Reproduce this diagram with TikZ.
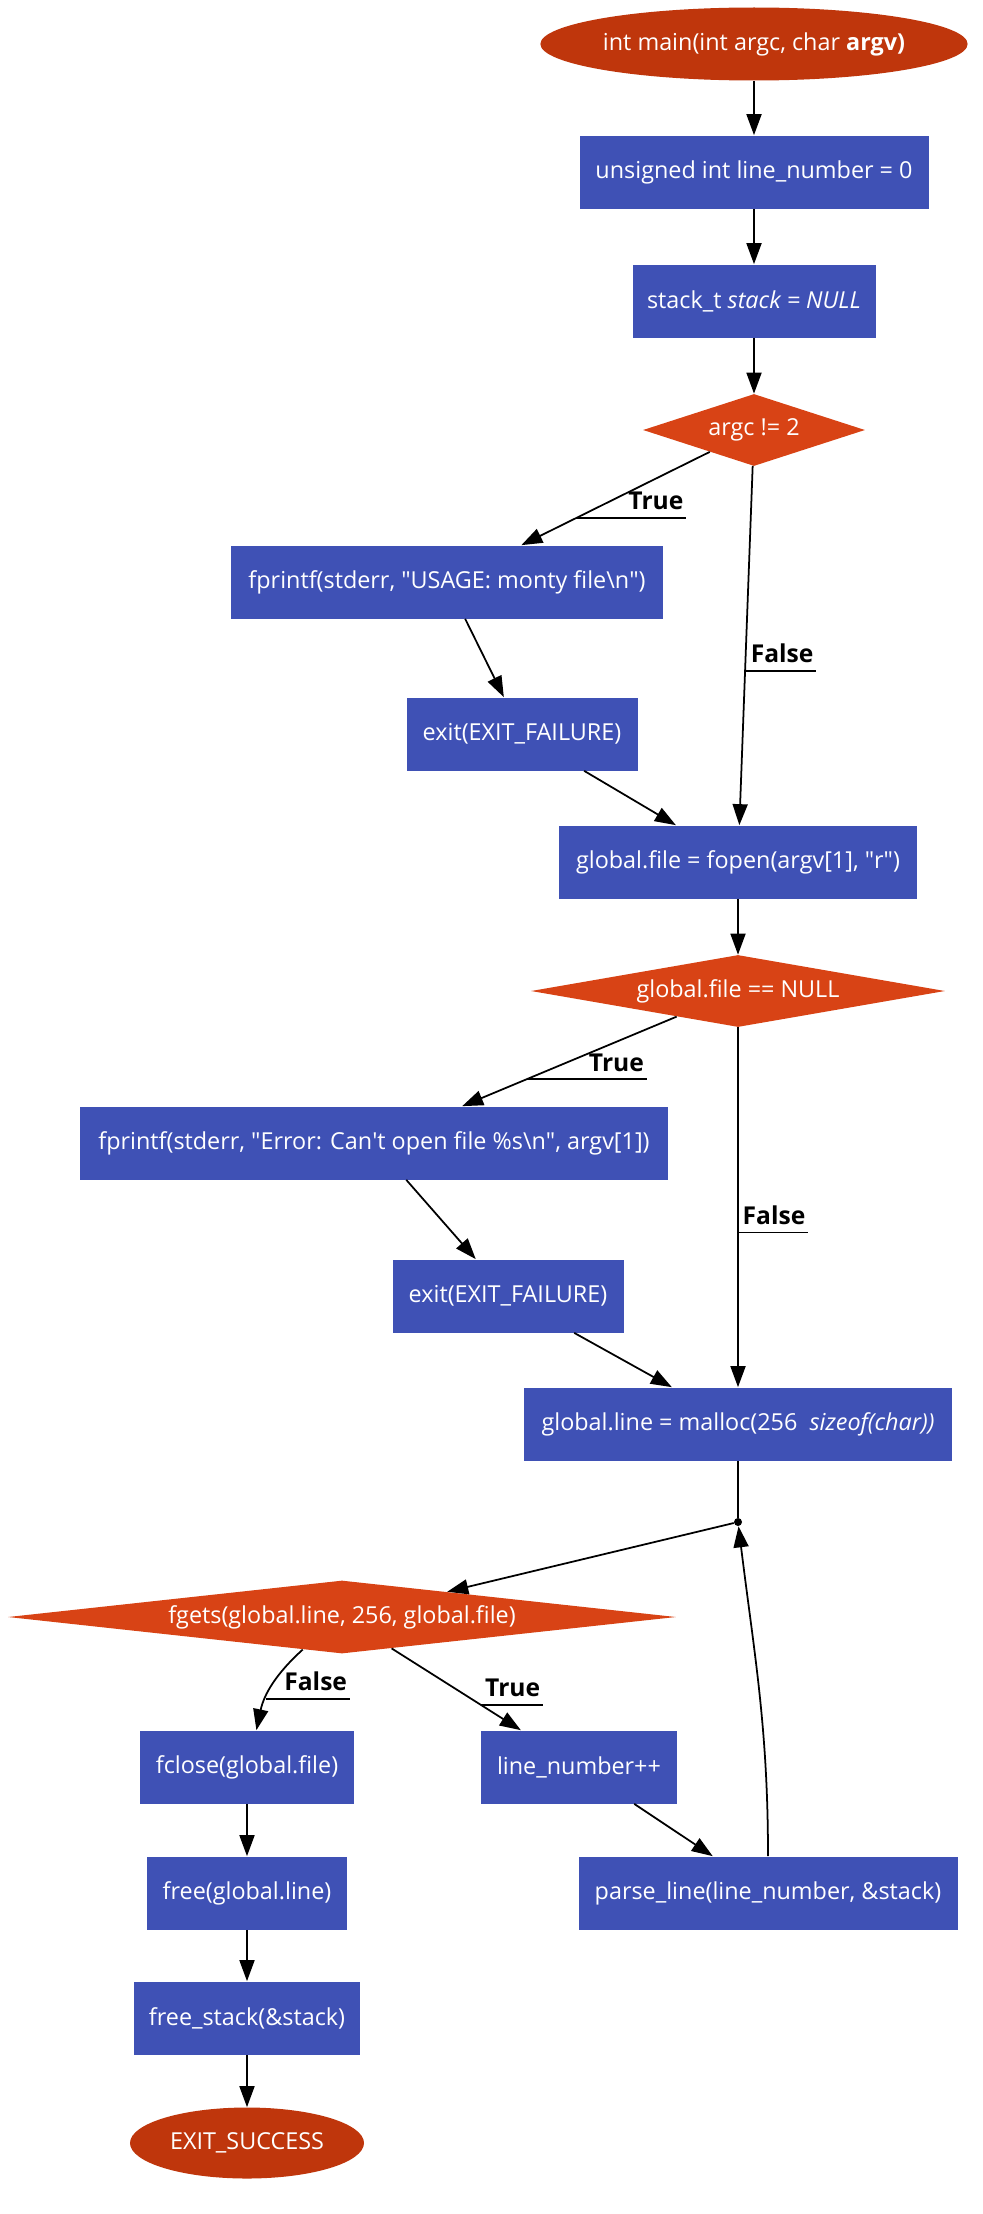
\documentclass[tikz,border=0pt]{standalone}
\usepackage{fontspec}
\setmainfont{Open Sans}
\usepackage{tikz}
\usetikzlibrary{shapes, arrows.meta, calc}
\definecolor{termred}{HTML}{BF360C}
\definecolor{procblue}{HTML}{3F51B5}
\definecolor{decorange}{HTML}{D84315}
\newcommand{\dq}{\textquotedbl}
\tikzstyle{terminal} = [ellipse, fill=termred, text=white, inner sep=0pt,
    minimum height=1.46cm]
\tikzstyle{process} = [rectangle, fill=procblue, text=white, inner sep=0pt,
    minimum height=1.46cm]
\tikzstyle{decision} = [diamond, fill=decorange, text=white, inner sep=0pt,
    minimum height=1.44cm]
\tikzstyle{line} = [draw, line width=1pt, -{Triangle[length=0.42cm, width=0.3cm]}]
\tikzstyle{branch} = [font=\fontsize{14}{16}\selectfont\bfseries, inner xsep=1pt,
    inner ysep=4pt, anchor=south east]
\tikzstyle{dot} = [circle, fill=black, inner sep=0pt, minimum size=0.16cm]

\begin{document}
\begin{tikzpicture}[node distance = 2.58cm, font=\fontsize{13.3}{15}\selectfont]
    \useasboundingbox (0,0) rectangle (19.66,-44.28);
    % Nodes
    \node[terminal, minimum width=8.34cm] (main) at (15.08,-0.88)
        {int main(int argc, char \textbf{argv)}};
    \node[process, below of=main, node distance=2.56cm, minimum width=6.98cm] (init)
        {unsigned int line\_number = 0};
    \node[process, below of=init, minimum width=4.86cm] (stackinit)
        {stack\_t \textit{stack = NULL}};
    \node[decision, below of=stackinit, minimum width=4.44cm, shape aspect=3] (argc)
        {argc != 2};
    \node[process, below of=argc, node distance=3.04cm, xshift=-6.14cm,
          minimum width=8.64cm] (usage)
        {fprintf(stderr, \dq USAGE: monty file\textbackslash n\dq)};
    \node[process, below of=usage, node distance=3.04cm, xshift=1.5cm,
          minimum width=4.62cm] (exita) {exit(EXIT\_FAILURE)};
    \node[process, below of=argc, node distance=8.64cm, xshift=-0.32cm,
          minimum width=7.16cm] (fopen) {global.file = fopen(argv[1], \dq r\dq)};
    \node[decision, below of=fopen, minimum width=8.28cm, shape aspect=5.7] (isnull)
        {global.file == NULL};
    \node[process, below of=isnull, node distance=3.04cm, xshift=-7.28cm,
          minimum width=11.76cm] (errmsg)
        {fprintf(stderr, \dq Error: Can\textquotesingle t open file \%s\textbackslash n\dq, argv[1])};
    \node[process, below of=errmsg, node distance=3.06cm, xshift=2.68cm,
          minimum width=4.62cm] (exitb) {exit(EXIT\_FAILURE)};
    \node[process, below of=isnull, node distance=8.66cm, minimum width=8.56cm] (malloc)
        {global.line = malloc(256 \ \textit{sizeof(char))}};
    \node[dot, below of=malloc, node distance=1.96cm] (jn) {};
    \node[decision, below of=malloc, node distance=3.86cm, xshift=-7.92cm,
          minimum width=13.36cm, minimum height=1.46cm, shape aspect=9] (fgets)
        {fgets(global.line, 256, global.file)};
    \node[process, below of=fgets, node distance=3cm, xshift=-1.9cm,
          minimum width=4.28cm] (fclose) {fclose(global.file)};
    \node[process, below of=fgets, node distance=3cm, xshift=4.74cm,
          minimum width=3.92cm] (incr) {line\_number++};
    \node[process, below of=fclose, node distance=2.52cm, minimum width=4cm] (freeline)
        {free(global.line)};
    \node[process, below of=incr, node distance=2.52cm, xshift=3.78cm,
          minimum width=7.58cm] (parse) {parse\_line(line\_number, \&stack)};
    \node[process, below of=freeline, node distance=2.5cm, minimum width=4.52cm] (freestack)
        {free\_stack(\&stack)};
    \node[terminal, below of=freestack, node distance=2.5cm, minimum width=4.68cm,
          minimum height=1.42cm] (success) {EXIT\_SUCCESS};

    % Edges
    \path[line] (main) -- (init);
    \path[line] (init) -- (stackinit);
    \path[line] (stackinit) -- (argc);
    \path[line] (argc) -- coordinate[pos=0.71] (ta) (usage);
    \draw[line width=1pt] (ta) -- ++(2.2,0) node[branch] (lta) {True};
    \path[line] (argc) -- coordinate[pos=0.57] (fa) (fopen);
    \draw[line width=1pt] (fa) -- ++(1.42,0) node[branch] (lfa) {False};
    \path[line] (usage) -- (exita);
    \path[line] (exita) -- (fopen);
    \path[line] (fopen) -- (isnull);
    \path[line] (isnull) -- coordinate[pos=0.7] (tb) (errmsg);
    \draw[line width=1pt] (tb) -- ++(2.4,0) node[branch] (ltb) {True};
    \path[line] (isnull) -- coordinate[pos=0.57] (fb) (malloc);
    \draw[line width=1pt] (fb) -- ++(1.4,0) node[branch] (lfb) {False};
    \path[line] (errmsg) -- (exitb);
    \path[line] (exitb) -- (malloc);
    \draw[line width=1pt] (malloc) -- (jn);
    \path[line] (jn) -- (fgets);
    \path[line] (fgets) to[bend right=18] coordinate[pos=0.67] (fc) (fclose);
    \draw[line width=1pt] (fc) -- ++(1.68,0) node[branch] (lfc) {False};
    \path[line] (fgets) -- coordinate[pos=0.69] (tc) (incr);
    \draw[line width=1pt] (tc) -- ++(1.24,0) node[branch] (ltc) {True};
    \path[line] (incr) -- (parse);
    \path[line] (parse.north) to[out=90, in=-83] (jn);
    \path[line] (fclose) -- (freeline);
    \path[line] (freeline) -- (freestack);
    \path[line] (freestack) -- (success);
\end{tikzpicture}
\end{document}
